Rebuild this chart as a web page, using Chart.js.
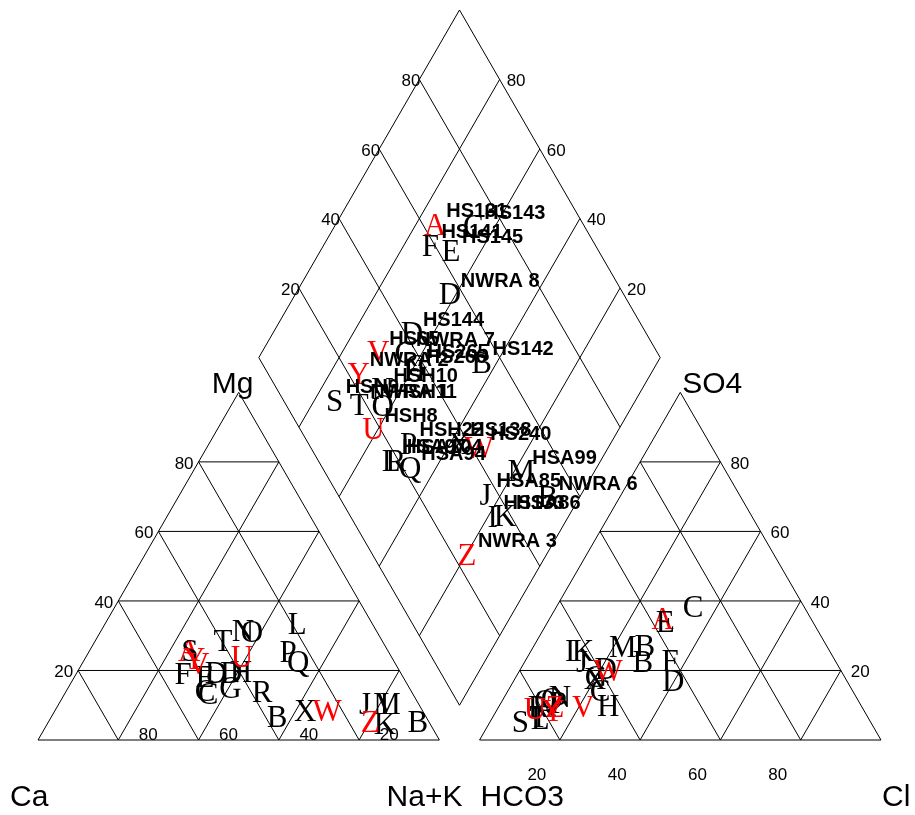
<!DOCTYPE html>
<html>
<head>
<meta charset="utf-8">
<title>Piper diagram</title>
<script src="https://cdn.jsdelivr.net/npm/chart.js@4.4.1/dist/chart.umd.min.js"></script>
<style>
    html, body { margin: 0; padding: 0; background: #fff; }
    #wrap { width: 915px; height: 815px; }
</style>
</head>
<body>
<div id="wrap"><canvas id="piper" width="915" height="815"></canvas></div>
<script>
// Sample letters (plot symbols) and the names written next to them in the diamond
const sampleIds = ['A','B','B','C','C','D','D','E','F','G','H','I','J','K','L','M','N','O','P','Q','R','S','T','U','V','W','X','Y','Z'];
const sampleNames = ['HS131','HS142','NWRA 6','HS143','NWRA 7','HS144','NWRA 8','HS145','HS141','HS265',
    'HS266','HS133','HSA85','HSA86','HSA97','HSA99','HSH10','HSH11','HSH22','HSA94',
    'HSA104','HSH9','NWRA 1','HSH8','HS65','HS240','HS138','NWRA 2','NWRA 3'];
const highlighted = ['A','U','V','W','Y','Z'];

// Cation percentages (Na+K = 100 - Ca - Mg)
const caPct  = [49.7, 37.3, 2.9, 51.5, 51.2, 46.2, 42.4, 49.5, 54.5, 44.7, 39.8, 8.7, 13.5, 11.4, 18.9, 8.0, 33.4, 31.3, 25.2, 24.1, 37.4, 49.5, 39.8, 37.4, 49.3, 23.9, 29.4, 49.6, 14.8];
const mgPct  = [25.3, 6.3, 4.9, 13.8, 12.9, 19.0, 19.0, 17.8, 18.7, 14.7, 19.3, 10.0, 10.1, 4.3, 33.1, 10.1, 31.1, 30.8, 25.0, 22.2, 13.5, 25.3, 28.2, 23.6, 21.6, 8.1, 8.1, 23.0, 4.9];
// Anion percentages (HCO3 = 100 - Cl - SO4)
const clPct  = [28.4, 27.8, 29.6, 34.2, 23.1, 21.4, 39.9, 29.4, 36.3, 20.0, 27.3, 9.9, 14.4, 13.1, 12.2, 22.4, 14.0, 12.3, 14.5, 10.9, 10.0, 7.7, 11.5, 9.5, 21.2, 22.2, 20.1, 14.3, 14.2];
const so4Pct = [34.5, 26.8, 22.2, 38.0, 13.8, 20.1, 16.7, 33.7, 22.4, 18.0, 9.5, 25.3, 22.2, 25.3, 5.8, 26.5, 12.1, 11.5, 10.3, 10.9, 9.2, 4.9, 6.5, 8.6, 9.2, 19.6, 17.3, 8.1, 9.2];

const gridTicks = [20, 40, 60, 80];

// ---- geometry (percent units, triangles of side 100) ----
const H = Math.sqrt(3) / 2;
const GAP = 10;
const RIGHT0 = 100 + GAP;

const cationXY = (na, mg) => ({ x: na + mg / 2, y: mg * H });
const anionXY = (cl, so4) => ({ x: RIGHT0 + cl + so4 / 2, y: so4 * H });
const diamondXY = (na, s) => ({ x: (na + RIGHT0 + s) / 2, y: H * (RIGHT0 + s - na) });

const PX = 915 / 227.94;           // pixels per unit
const X_MIN = -38 / PX, X_MAX = X_MIN + 915 / PX;
const Y_MAX = 740 / PX, Y_MIN = Y_MAX - 815 / PX;

function segments(pairs) {
    const out = [];
    pairs.forEach(([a, b]) => { out.push(a, b, { x: b.x, y: null }); });
    return out;
}

function triangleLines(f) {
    const pairs = [[f(0, 0), f(100, 0)], [f(100, 0), f(0, 100)], [f(0, 100), f(0, 0)]];
    gridTicks.forEach(t => {
        pairs.push([f(0, t), f(100 - t, t)]);
        pairs.push([f(100 - t, 0), f(0, 100 - t)]);
        pairs.push([f(t, 0), f(t, 100 - t)]);
    });
    return segments(pairs);
}

function diamondLines() {
    const f = diamondXY;
    const pairs = [[f(0, 0), f(100, 0)], [f(100, 0), f(100, 100)], [f(100, 100), f(0, 100)], [f(0, 100), f(0, 0)]];
    gridTicks.forEach(t => {
        pairs.push([f(t, 0), f(t, 100)]);
        pairs.push([f(0, t), f(100, t)]);
    });
    return segments(pairs);
}

const naPct = caPct.map((c, i) => 100 - c - mgPct[i]);
const sPct = clPct.map((c, i) => c + so4Pct[i]);
const cationPts = naPct.map((na, i) => cationXY(na, mgPct[i]));
const anionPts = clPct.map((cl, i) => anionXY(cl, so4Pct[i]));
const diamondPts = naPct.map((na, i) => diamondXY(na, sPct[i]));

const lineStyle = { showLine: true, borderColor: '#000', borderWidth: 1, pointRadius: 0, spanGaps: false, fill: false };

const SERIF = '"Liberation Serif", "Times New Roman", serif';
const SANS = '"Liberation Sans", Arial, Helvetica, sans-serif';

const piperText = {
    id: 'piperText',
    afterDatasetsDraw(chart) {
        const ctx = chart.ctx;
        const sx = chart.scales.x, sy = chart.scales.y;
        const px = p => ({ x: sx.getPixelForValue(p.x), y: sy.getPixelForValue(p.y) });
        const put = (txt, x, y, align, base) => {
            ctx.textAlign = align;
            ctx.textBaseline = base;
            ctx.fillText(txt, x, y);
        };

        ctx.save();
        ctx.fillStyle = '#000';

        // tick labels
        ctx.font = '17px ' + SANS;
        gridTicks.forEach(t => {
            let p = px(cationXY(0, t));
            put(String(t), p.x - 5, p.y + 2, 'right', 'middle');
            p = px(cationXY(100 - t, 0));
            put(String(t), p.x + 30, p.y - 0.5, 'center', 'alphabetic');
            p = px(anionXY(t, 0));
            put(String(t), p.x - 23, p.y + 35, 'center', 'middle');
            p = px(anionXY(100 - t, t));
            put(String(t), p.x + 10, p.y + 2, 'left', 'middle');
            p = px(diamondXY(0, t));
            put(String(t), p.x + 1, p.y + 2, 'right', 'middle');
            p = px(diamondXY(100 - t, 100));
            put(String(t), p.x + 7, p.y + 2, 'left', 'middle');
        });

        // axis titles
        ctx.font = '30px ' + SANS;
        let a = px(cationXY(0, 100));
        put('Mg', a.x - 6, a.y + 1, 'center', 'alphabetic');
        a = px(anionXY(0, 100));
        put('SO4', a.x + 2, a.y + 1, 'left', 'alphabetic');
        a = px(cationXY(0, 0));
        put('Ca', a.x - 28, a.y + 66, 'left', 'alphabetic');
        a = px(cationXY(100, 0));
        put('Na+K', a.x + 23, a.y + 66, 'right', 'alphabetic');
        a = px(anionXY(0, 0));
        put('HCO3', a.x + 1, a.y + 66, 'left', 'alphabetic');
        a = px(anionXY(100, 0));
        put('Cl', a.x + 1, a.y + 66, 'left', 'alphabetic');

        // sample letters in the three panels
        ctx.font = '31px ' + SERIF;
        [1, 2, 3].forEach(di => {
            const meta = chart.getDatasetMeta(di);
            meta.data.forEach((el, i) => {
                ctx.fillStyle = highlighted.includes(sampleIds[i]) ? '#ff0000' : '#000';
                put(sampleIds[i], el.x, el.y + 1, 'center', 'middle');
            });
        });

        // sample names in the diamond
        ctx.font = 'bold 20px ' + SANS;
        ctx.fillStyle = '#000';
        chart.getDatasetMeta(3).data.forEach((el, i) => {
            put(sampleNames[i], el.x + 11, el.y - 14, 'left', 'middle');
        });
        ctx.restore();
    }
};

const canvas = document.getElementById('piper');
new Chart(canvas.getContext('2d'), {
    type: 'scatter',
    data: {
        datasets: [
            Object.assign({ label: 'grid', data: triangleLines(cationXY)
                .concat(triangleLines(anionXY)).concat(diamondLines()) }, lineStyle),
            { label: 'cations', data: cationPts, pointRadius: 0 },
            { label: 'anions', data: anionPts, pointRadius: 0 },
            { label: 'diamond', data: diamondPts, pointRadius: 0 }
        ]
    },
    options: {
        responsive: false,
        animation: false,
        devicePixelRatio: 1,
        events: [],
        layout: { padding: 0 },
        plugins: { legend: { display: false }, tooltip: { enabled: false } },
        scales: {
            x: { type: 'linear', min: X_MIN, max: X_MAX, display: false },
            y: { type: 'linear', min: Y_MIN, max: Y_MAX, display: false }
        }
    },
    plugins: [piperText]
});
</script>
</body>
</html>
